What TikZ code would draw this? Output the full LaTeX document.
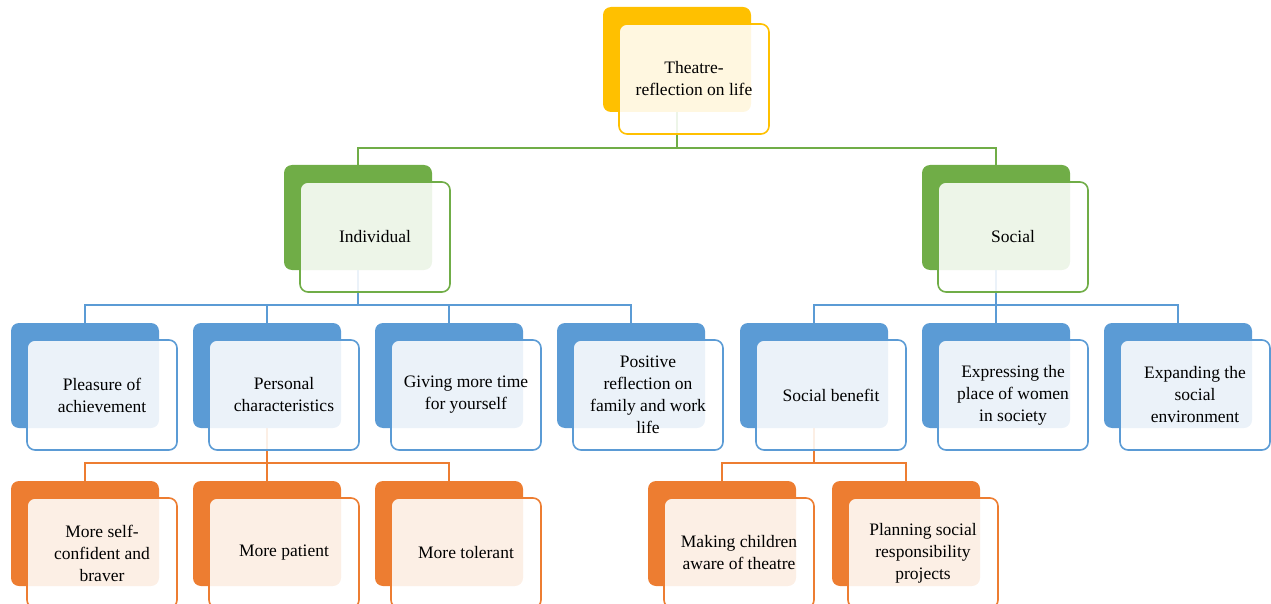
\documentclass[tikz,border=0pt]{standalone}
\usepackage{fontspec}
\setmainfont{Liberation Serif}
\usetikzlibrary{calc}
\definecolor{cblue}{HTML}{5B9BD5}
\definecolor{cgreen}{HTML}{70AD47}
\definecolor{corange}{HTML}{ED7D31}
\definecolor{cgold}{HTML}{FFC000}
\pgfdeclarelayer{bg}
\pgfsetlayers{bg,main}
\tikzset{
  backbox/.style={draw=none, fill=#1, rounded corners=8pt, minimum width=148pt,
    minimum height=105pt, anchor=north west, inner sep=0pt, outer sep=0pt},
  frontbox/.style={draw=#1, line width=1.6pt, fill=white, fill opacity=0.88, text opacity=1,
    rounded corners=8pt, minimum width=150pt, minimum height=110pt, anchor=north west,
    inner sep=0pt, outer sep=0pt, align=center, font=\fontsize{17.5}{22}\selectfont},
  conn/.style={draw=#1, line width=1.6pt}
}
\newcommand\tpair[5]{%
  \node[backbox=#4] (#1b) at (#2,#3) {};
  \node[frontbox=#4] (#1f) at ([xshift=16pt,yshift=-17pt]#2,#3) {#5};}
\begin{document}
\begin{tikzpicture}[x=1pt,y=-1pt]
\useasboundingbox (0,0) rectangle (1271,604);
\clip (0,0) rectangle (1271,604);
% level 0 and 1
\tpair{top}{603}{7}{cgold}{Theatre-\\reflection on life}
\tpair{ind}{284}{165}{cgreen}{Individual}
\tpair{soc}{922}{165}{cgreen}{Social}
% level 2
\tpair{ple}{11}{323}{cblue}{Pleasure of\\achievement}
\tpair{per}{193}{323}{cblue}{Personal\\characteristics}
\tpair{giv}{375}{323}{cblue}{Giving more time\\for yourself}
\tpair{pos}{557}{323}{cblue}{Positive\\reflection on\\family and work\\life}
\tpair{sben}{740}{323}{cblue}{Social benefit}
\tpair{exp}{922}{323}{cblue}{Expressing the\\place of women\\in society}
\tpair{expa}{1104}{323}{cblue}{Expanding the\\social\\environment}
% level 3
\tpair{conf}{11}{481}{corange}{More self-\\confident and\\braver}
\tpair{pat}{193}{481}{corange}{More patient}
\tpair{tol}{375}{481}{corange}{More tolerant}
\tpair{chil}{648}{481}{corange}{Making children\\aware of theatre}
\tpair{plan}{832}{481}{corange}{Planning social\\responsibility\\projects}
% buses
\coordinate (busA) at (0,148);
\coordinate (busB) at (0,305);
\coordinate (busC) at (0,463);
\begin{pgfonlayer}{bg}
\draw[conn=cgreen] (topb.south) -- (topb.south |- busA) -| (indb.north);
\draw[conn=cgreen] (topb.south |- busA) -| (socb.north);
\foreach \c in {pleb,perb,givb,posb}
  \draw[conn=cblue] (indb.south) -- (indb.south |- busB) -| (\c.north);
\foreach \c in {sbenb,expb,expab}
  \draw[conn=cblue] (socb.south) -- (socb.south |- busB) -| (\c.north);
\foreach \c in {confb,patb,tolb}
  \draw[conn=corange] (perb.south) -- (perb.south |- busC) -| (\c.north);
\foreach \c in {chilb,planb}
  \draw[conn=corange] (sbenb.south) -- (sbenb.south |- busC) -| (\c.north);
\end{pgfonlayer}
\end{tikzpicture}
\end{document}
